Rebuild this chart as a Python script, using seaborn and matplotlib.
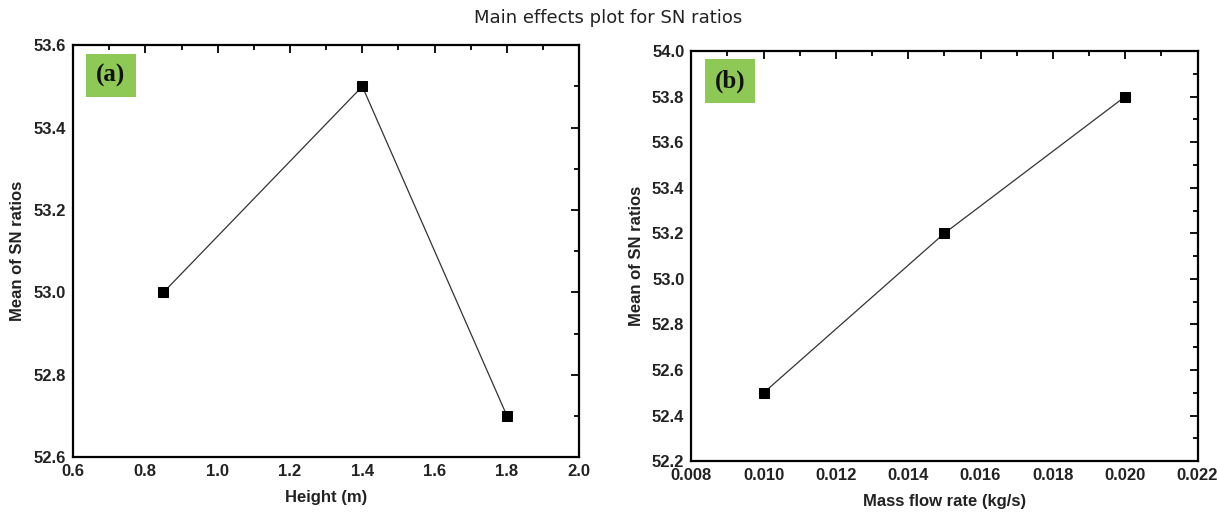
import matplotlib
matplotlib.use("Agg")
import matplotlib.pyplot as plt
import seaborn as sns
import pandas as pd
from matplotlib.ticker import MultipleLocator, FormatStrFormatter

# Mean SN ratios for each factor level
height_levels = [0.85, 1.4, 1.8]
height_sn = [53.0, 53.5, 52.7]
flow_levels = [0.010, 0.015, 0.020]
flow_sn = [52.5, 53.2, 53.8]

sns.set_theme(style="white")
plt.rcParams["font.family"] = ["Liberation Sans", "DejaVu Sans"]

fig = plt.figure(figsize=(12.17, 5.2), dpi=100)
ax_a = fig.add_axes([0.060, 0.121, 0.416, 0.792])
ax_b = fig.add_axes([0.568, 0.113, 0.416, 0.789])

df_a = pd.DataFrame({"Height (m)": height_levels, "SN": height_sn})
df_b = pd.DataFrame({"Mass flow rate (kg/s)": flow_levels, "SN": flow_sn})

line_kw = dict(color="#333333", linewidth=0.9, marker="s", markersize=7,
               markerfacecolor="black", markeredgecolor="black")
sns.lineplot(data=df_a, x="Height (m)", y="SN", ax=ax_a, **line_kw)
sns.lineplot(data=df_b, x="Mass flow rate (kg/s)", y="SN", ax=ax_b, **line_kw)

ax_a.set_xlim(0.6, 2.0)
ax_a.set_ylim(52.6, 53.6)
ax_a.xaxis.set_major_locator(MultipleLocator(0.2))
ax_a.xaxis.set_minor_locator(MultipleLocator(0.1))
ax_a.yaxis.set_major_locator(MultipleLocator(0.2))
ax_a.yaxis.set_minor_locator(MultipleLocator(0.1))
ax_a.xaxis.set_major_formatter(FormatStrFormatter("%.1f"))
ax_a.yaxis.set_major_formatter(FormatStrFormatter("%.1f"))

ax_b.set_xlim(0.008, 0.022)
ax_b.set_ylim(52.2, 54.0)
ax_b.xaxis.set_major_locator(MultipleLocator(0.002))
ax_b.xaxis.set_minor_locator(MultipleLocator(0.001))
ax_b.yaxis.set_major_locator(MultipleLocator(0.2))
ax_b.yaxis.set_minor_locator(MultipleLocator(0.1))
ax_b.xaxis.set_major_formatter(FormatStrFormatter("%.3f"))
ax_b.yaxis.set_major_formatter(FormatStrFormatter("%.1f"))

for ax, tag in ((ax_a, "(a)"), (ax_b, "(b)")):
    for s in ax.spines.values():
        s.set_visible(True)
        s.set_color("black")
        s.set_linewidth(1.6)
    ax.tick_params(which="both", direction="in", top=True, right=True,
                   colors="black", width=1.3)
    ax.tick_params(which="major", length=6, labelsize=12, pad=5,
                   labelcolor="#222222")
    ax.tick_params(which="minor", length=3.5)
    for lbl in ax.get_xticklabels() + ax.get_yticklabels():
        lbl.set_fontweight("bold")
    ax.set_ylabel("Mean of SN ratios", fontsize=12, fontweight="bold",
                  labelpad=6, color="#222222")
    ax.set_xlabel(ax.get_xlabel(), fontsize=12, fontweight="bold",
                  labelpad=8, color="#222222")
    ax.grid(False)
    ax.text(0.046, 0.955, tag, transform=ax.transAxes, ha="left", va="top",
            fontsize=18, fontweight="bold", family="Liberation Serif",
            color="#111111",
            bbox=dict(boxstyle="square,pad=0.4", facecolor="#8DC954",
                      edgecolor="none"))

fig.text(0.5, 0.965, "Main effects plot for SN ratios", ha="center", va="center",
         fontsize=13, family="DejaVu Sans", color="#222222")

fig.savefig("out.png", dpi=100, facecolor="white")
